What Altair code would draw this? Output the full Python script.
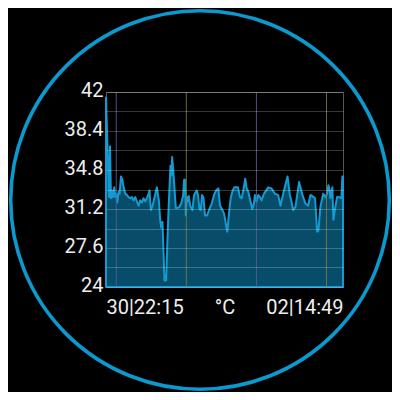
import altair as alt
import pandas as pd

# ---- data ----
hours = [0, 0.51, 0.68, 0.85, 1.02, 1.19, 1.42, 1.59, 1.76, 1.93,
         2.16, 2.33, 2.56, 2.79, 3.02, 3.30, 3.58, 3.87, 4.15, 4.44,
         4.72, 5.01, 5.29, 5.58, 5.86, 6.15, 6.43, 6.71, 7.00, 7.28,
         7.45, 7.68, 7.97, 8.31, 8.71, 9.05, 9.27, 9.45, 9.67, 10.01,
         10.30, 10.53, 10.75, 11.04, 11.21, 11.32, 11.55, 11.72, 11.95, 12.23,
         12.57, 12.86, 13.20, 13.37, 13.54, 13.66, 13.83, 14.00, 14.17, 14.40,
         14.79, 15.08, 15.53, 15.76, 15.99, 16.22, 16.44, 16.67, 16.96, 17.30,
         17.70, 18.09, 18.49, 18.83, 19.23, 19.52, 19.92, 20.20, 20.77, 21.05,
         21.34, 21.68, 21.96, 22.36, 22.59, 22.93, 23.22, 23.50, 23.84, 24.07,
         24.35, 25.04, 25.32, 25.49, 25.78, 26.06, 26.34, 26.63, 27.03, 27.77,
         28.34, 28.91, 29.47, 29.87, 30.33, 31.07, 31.47, 31.75, 32.03, 32.43,
         33.06, 33.57, 34.14, 34.60, 35.00, 35.56, 35.79, 36.13, 36.36, 36.70,
         37.16, 37.55, 37.84, 38.07, 38.29, 38.41, 38.75, 38.92, 39.26, 39.55,
         39.89, 40.29, 40.46, 40.57]

temps = [41.5, 32.3, 37.0, 32.2, 32.9, 32.3, 33.2, 32.3, 32.6, 31.8,
         32.8, 32.6, 34.2, 33.9, 33.2, 32.6, 32.5, 32.3, 32.2, 32.3,
         32.0, 32.3, 31.9, 31.5, 32.0, 31.8, 32.2, 31.9, 32.2, 32.6,
         32.9, 31.1, 31.5, 32.3, 33.2, 32.0, 30.2, 29.5, 30.0, 24.6,
         24.6, 28.6, 31.7, 35.2, 34.3, 36.0, 34.5, 33.1, 31.3, 31.3,
         31.4, 31.7, 32.4, 33.9, 33.9, 30.6, 32.3, 31.9, 32.4, 31.5,
         31.1, 32.5, 32.9, 32.5, 31.2, 31.1, 32.5, 32.3, 30.6, 30.6,
         31.2, 31.7, 32.5, 32.9, 33.1, 31.5, 31.1, 30.8, 29.1, 30.8,
         32.2, 32.9, 33.2, 33.2, 33.2, 32.3, 32.2, 32.9, 34.0, 33.1,
         32.8, 31.2, 31.7, 32.5, 31.9, 32.5, 32.3, 32.0, 32.6, 33.2,
         33.1, 32.6, 32.5, 31.5, 32.6, 34.2, 32.5, 31.9, 31.1, 31.4,
         33.7, 32.6, 31.7, 31.5, 32.5, 32.3, 32.2, 29.1, 29.2, 31.4,
         32.6, 32.3, 32.6, 33.4, 32.9, 32.2, 33.2, 30.2, 31.4, 32.3,
         32.3, 32.2, 34.2, 34.2]

# day boundaries (midnight / noon) in hours from start
marker_hours = [1.75, 13.75, 25.75, 37.75]
marker_kind = ["midnight", "noon", "midnight", "noon"]

y_grid_values = [24, 25.8, 27.6, 29.4, 31.2, 33, 34.8, 36.6, 38.4, 40.2, 42]
x_tick_values = [0, 40.57]
x_tick_labels = ["30|22:15", "02|14:49"]
unit_label = "°C"

FONT = "Roboto"
TEXT = "#eeeeee"

df = pd.DataFrame({"hours": hours, "temp": temps})
markers = pd.DataFrame({"hours": marker_hours, "kind": marker_kind})

x_label_expr = f"datum.value < 1 ? '{x_tick_labels[0]}' : '{x_tick_labels[1]}'"
y_label_expr = ("(round((datum.value - 24) * 10) % 36 == 0) ? "
                "format(datum.value, '.1~f') : ''")

x_enc = alt.X(
    "hours:Q",
    scale=alt.Scale(domain=[0, 40.57], nice=False, zero=False),
    axis=alt.Axis(
        values=x_tick_values, labelExpr=x_label_expr, title=unit_label,
        grid=False, domain=False, ticks=False, tickSize=0,
        labelFlush=True, labelBaseline="middle", labelPadding=20,
        labelFont=FONT, labelFontSize=20, labelColor=TEXT,
        titleFont=FONT, titleFontSize=20, titleFontWeight="normal",
        titleColor=TEXT, titleY=20, titleBaseline="middle",
    ),
)
y_enc = alt.Y(
    "temp:Q",
    scale=alt.Scale(domain=[24, 42], nice=False, zero=False),
    axis=alt.Axis(
        values=y_grid_values, labelExpr=y_label_expr, title=None,
        grid=True, gridColor="#ffffff", gridOpacity=0.22, gridWidth=1,
        domain=False, ticks=False, tickSize=0, zindex=1,
        labelOverlap=False, labelBaseline="middle", labelPadding=3,
        labelOffset=-2, labelFont=FONT, labelFontSize=20, labelColor=TEXT,
    ),
)

area = alt.Chart(df).mark_area(
    fill="#074c68", stroke="#129bd3", strokeWidth=2, strokeJoin="round",
    interpolate="linear",
).encode(x=x_enc, y=y_enc, y2=alt.datum(24))

rules = alt.Chart(markers).mark_rule(strokeWidth=1, opacity=0.85).encode(
    x="hours:Q",
    color=alt.Color("kind:N", scale=alt.Scale(domain=["midnight", "noon"],
                                              range=["#5c5ca0", "#7c7c44"]),
                    legend=None),
)

ring = alt.Chart(pd.DataFrame({"ring": [0]})).mark_point(
    shape="circle", filled=False, size=143338, strokeWidth=3.6,
    color="#0a9ad0", opacity=1,
).encode(x=alt.value(94), y=alt.value(108))

chart = alt.layer(area, rules, ring).properties(
    width=237, height=195,
    autosize=alt.AutoSizeParams(type="none"),
    padding={"left": 98, "top": 84, "right": 49, "bottom": 105},
    background="#000000",
).configure_view(stroke="#555555", strokeWidth=1)

chart.save("out.html", embed_options={"renderer": "svg", "actions": False})
